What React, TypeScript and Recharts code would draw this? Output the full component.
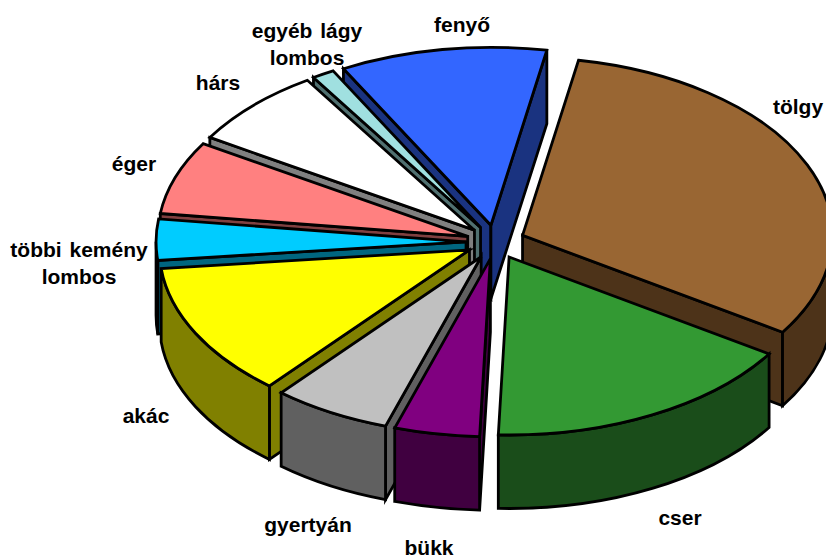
import { PieChart, Pie } from "recharts";

// drawn counter-clockwise from the top, back slices first, so the side walls stack properly
const categories = [
  "fenyő",
  "egyéb lágy\nlombos",
  "hárs",
  "éger",
  "többi kemény\nlombos",
  "akác",
  "gyertyán",
  "bükk",
  "cser",
  "tölgy",
];
const shares = [10.78, 1.17, 7.22, 6.67, 3.72, 12.17, 6.17, 4.44, 16.39, 31.28];
const topColors = [
  "#3366FF",
  "#A0E0E0",
  "#FFFFFF",
  "#FF8080",
  "#00CCFF",
  "#FFFF00",
  "#C0C0C0",
  "#800080",
  "#339933",
  "#996633",
];
const wallColors = [
  "#1A3380",
  "#507070",
  "#808080",
  "#804040",
  "#006680",
  "#808000",
  "#606060",
  "#400040",
  "#1A4D1A",
  "#4D3319",
];

// centre of each label block, in chart pixels
const labelAnchors = [
  [462, 25],
  [307, 44],
  [218, 83],
  [134, 164],
  [79, 263],
  [146, 416],
  [308, 525],
  [429, 548],
  [680, 518],
  [798, 107],
];

const CX = 495.5;
const CY = 242;
const RADIUS = 310;
const SQUASH = 178 / 310;
const EXPLODE = 0.095;
const DEPTH = 73.5;
const LINE = 2.8;

const rad = (d: number) => (d * Math.PI) / 180;

// t is measured clockwise from the top of the ellipse
function slicePoint(ox: number, oy: number, t: number, r: number = RADIUS) {
  return [ox + r * Math.sin(rad(t)), oy - r * SQUASH * Math.cos(rad(t))];
}

function sliceGeometry(props: any) {
  const t1 = 90 - Math.max(props.startAngle, props.endAngle);
  const t2 = 90 - Math.min(props.startAngle, props.endAngle);
  const mid = (t1 + t2) / 2;
  const [ox, oy] = slicePoint(props.cx, props.cy, mid, props.outerRadius * EXPLODE);
  return { t1, t2, ox, oy, r: props.outerRadius };
}

function arcTo(b: number[], r: number, sweep: number) {
  return `A${r} ${r * SQUASH} 0 0 ${sweep} ${b[0]} ${b[1]}`;
}

function TopFace(props: any) {
  const { t1, t2, ox, oy, r } = sliceGeometry(props);
  const a = slicePoint(ox, oy, t1, r);
  const b = slicePoint(ox, oy, t2, r);
  return (
    <path
      d={`M${ox} ${oy}L${a[0]} ${a[1]}${arcTo(b, r, 1)}Z`}
      fill={topColors[props.index]}
      stroke="#000"
      strokeWidth={LINE}
    />
  );
}

function RadialWalls(props: any) {
  const { t1, t2, ox, oy, r } = sliceGeometry(props);
  const edges: number[] = [];
  if (Math.sin(rad(t1)) < 0) edges.push(t1);
  if (Math.sin(rad(t2)) > 0) edges.push(t2);
  return (
    <g>
      {edges.map((t) => {
        const p = slicePoint(ox, oy, t, r);
        return (
          <path
            key={t}
            d={`M${ox} ${oy}L${p[0]} ${p[1]}V${p[1] + DEPTH}L${ox} ${oy + DEPTH}Z`}
            fill={wallColors[props.index]}
            stroke="#000"
            strokeWidth={LINE}
          />
        );
      })}
    </g>
  );
}

function ArcWall(props: any) {
  const { t1, t2, ox, oy, r } = sliceGeometry(props);
  // only the part of the rim facing the viewer
  const wrap = t1 < -90 ? 360 : 0;
  const start = Math.max(t1 + wrap, 90);
  const end = Math.min(t2 + wrap, 270);
  if (end <= start) return null;
  const a = slicePoint(ox, oy, start, r);
  const b = slicePoint(ox, oy, end, r);
  return (
    <path
      d={`M${a[0]} ${a[1]}${arcTo(b, r, 1)}V${b[1] + DEPTH}${arcTo([a[0], a[1] + DEPTH], r, 0)}Z`}
      fill={wallColors[props.index]}
      stroke="#000"
      strokeWidth={LINE}
    />
  );
}

function SliceLabel(props: any) {
  const [x, y] = labelAnchors[props.index];
  const lines = categories[props.index].split("\n");
  return (
    <text
      x={x}
      y={y}
      textAnchor="middle"
      fontFamily="Liberation Sans"
      fontWeight="bold"
      fontSize={21}
      wordSpacing={2}
      fill="#000"
    >
      {lines.map((line, i) => (
        <tspan key={line} x={x} y={y + (i - (lines.length - 1) / 2) * 27 + 7}>
          {line}
        </tspan>
      ))}
    </text>
  );
}

const data = categories.map((name, i) => ({ name, value: shares[i] }));

function layer(key: string, shape: any, label?: any) {
  return (
    <Pie
      key={key}
      data={data}
      dataKey="value"
      nameKey="name"
      cx={CX}
      cy={CY}
      outerRadius={RADIUS}
      startAngle={79.6}
      endAngle={439.6}
      stroke="none"
      shape={shape}
      label={label ?? false}
      labelLine={false}
      isAnimationActive={false}
    />
  );
}

export default function App() {
  return (
    <div style={{ position: "absolute", left: 0, top: 0, width: 826, height: 558, overflow: "hidden" }}>
      <PieChart width={826} height={558} margin={{ top: 0, right: 0, bottom: 0, left: 0 }}>
        {layer("radial", RadialWalls)}
        {layer("rim", ArcWall)}
        {layer("top", TopFace, SliceLabel)}
      </PieChart>
    </div>
  );
}
